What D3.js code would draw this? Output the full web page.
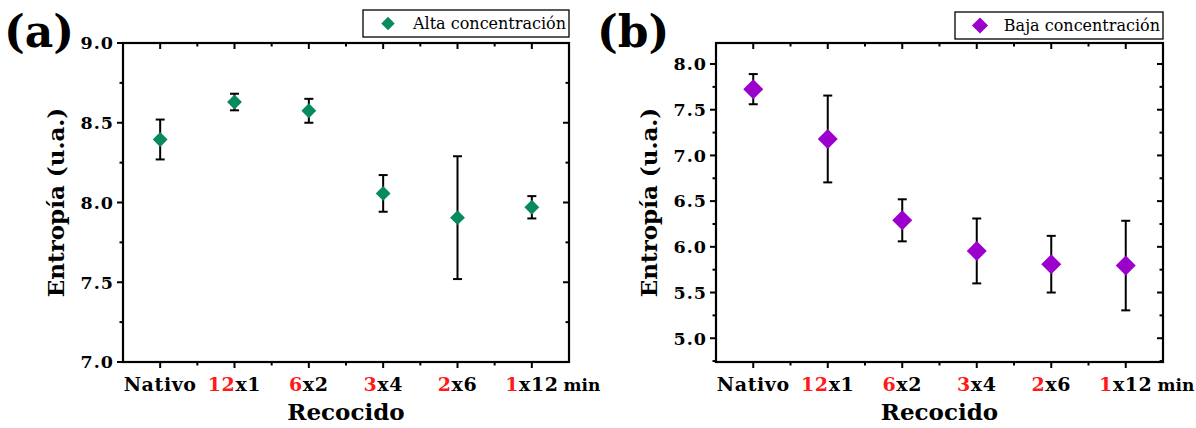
<!DOCTYPE html>
<html><head><meta charset="utf-8">
<script src="https://cdn.jsdelivr.net/npm/d3@7"></script>
<style>
html,body{margin:0;padding:0;background:#fff;}
svg text{font-family:"DejaVu Serif","Liberation Serif",serif;}
</style></head>
<body><svg id="c" width="1196" height="428"></svg>
<script>
// ---- data ----
const categories = ["Nativo", "12x1", "6x2", "3x4", "2x6", "1x12"];
const labelRed   = ["", "12", "6", "3", "2", "1"];
const labelBlack = ["Nativo", "x1", "x2", "x4", "x6", "x12"];
const labelSuffix = ["", "", "", "", "", "min"];
const altaMean = [8.395, 8.630, 8.575, 8.057, 7.905, 7.970];
const altaErr  = [0.125, 0.052, 0.075, 0.115, 0.385, 0.070];
const bajaMean = [7.725, 7.180, 6.290, 5.955, 5.810, 5.795];
const bajaErr  = [0.165, 0.475, 0.230, 0.355, 0.310, 0.490];
const altaTicks = [7.0, 7.5, 8.0, 8.5, 9.0];
const bajaTicks = [5.0, 5.5, 6.0, 6.5, 7.0, 7.5, 8.0];

const svg = d3.select("#c");

function panel(o){
  const g = svg.append("g");
  const x = d3.scaleLinear().domain([-0.5, categories.length-0.5]).range([o.left, o.right]);
  const y = d3.scaleLinear().domain(o.ydom).range([o.bottom, o.top]);
  const xMajor = categories.map((c,i)=>i);
  const xMinor = d3.range(0, categories.length-1).map(v=>v+0.5);
  const yMinor = d3.range(Math.ceil(o.ydom[0]*4)/4, o.ydom[1]+1e-9, 0.25).filter(v=>Math.abs(v*2-Math.round(v*2))>1e-6);

  const tick = (data, x1, x2, y1, y2) => g.selectAll(null).data(data).join("line")
    .attr("x1",x1).attr("x2",x2).attr("y1",y1).attr("y2",y2)
    .attr("stroke","#000").attr("stroke-width",2);
  tick(xMajor, d=>x(d), d=>x(d), o.bottom, o.bottom+6);
  tick(xMinor, d=>x(d), d=>x(d), o.bottom, o.bottom+3.5);
  tick(xMajor, d=>x(d), d=>x(d), o.top, o.top+6);
  tick(xMinor, d=>x(d), d=>x(d), o.top, o.top+3.5);
  tick(o.ticks, o.left-6, o.left, d=>y(d), d=>y(d));
  tick(yMinor, o.left-3.5, o.left, d=>y(d), d=>y(d));
  tick(o.ticks, o.right-6, o.right, d=>y(d), d=>y(d));
  tick(yMinor, o.right-3.5, o.right, d=>y(d), d=>y(d));
  g.append("rect").attr("x",o.left).attr("y",o.top).attr("width",o.right-o.left).attr("height",o.bottom-o.top)
    .attr("fill","none").attr("stroke","#000").attr("stroke-width",2.2);

  // y tick labels
  g.selectAll(null).data(o.ticks).join("text")
    .attr("x",o.left-9).attr("y",d=>y(d)).attr("dy","0.36em")
    .attr("text-anchor","end").attr("font-size",17.5).attr("font-weight","bold")
    .attr("letter-spacing","1px")
    .text(d=>d3.format(".1f")(d));

  // x tick labels
  categories.forEach((c,i)=>{
    const t = g.append("text").attr("y",o.bottom+29).attr("font-size",19).attr("font-weight","bold");
    const a = t.append("tspan").attr("fill","#ff1a1a").attr("letter-spacing","0.6px").text(labelRed[i]);
    const b = t.append("tspan").attr("fill","#000").attr("letter-spacing","0.6px").text(labelBlack[i]);
    if(labelSuffix[i]) t.append("tspan").attr("fill","#000").attr("dx",5).attr("font-size",17).text(labelSuffix[i]);
    const w = (labelRed[i]? a.node().getComputedTextLength():0) + b.node().getComputedTextLength();
    t.attr("x", x(i) - w/2);
  });

  // axis titles
  g.append("text").attr("x",(o.left+o.right)/2).attr("y",o.bottom+58)
    .attr("text-anchor","middle").attr("font-size",23).attr("font-weight","bold").text("Recocido");
  g.append("text").attr("transform",`translate(${o.ytx},${(o.top+o.bottom)/2}) rotate(-90)`)
    .attr("text-anchor","middle").attr("font-size",23).attr("font-weight","bold").text("Entropía (u.a.)");

  // panel letter
  g.append("text").attr("x",o.lx).attr("y",o.ly).attr("font-size",44).attr("font-weight","bold")
    .text(o.letter);

  // error bars
  const eg = g.append("g");
  o.mean.forEach((m,i)=>{
    const lo = y(m-o.err[i]), hi = y(m+o.err[i]);
    eg.append("line").attr("x1",x(i)).attr("x2",x(i)).attr("y1",lo).attr("y2",hi).attr("stroke","#000").attr("stroke-width",2);
    eg.append("line").attr("x1",x(i)-4.5).attr("x2",x(i)+4.5).attr("y1",lo).attr("y2",lo).attr("stroke","#000").attr("stroke-width",2);
    eg.append("line").attr("x1",x(i)-4.5).attr("x2",x(i)+4.5).attr("y1",hi).attr("y2",hi).attr("stroke","#000").attr("stroke-width",2);
  });
  // markers
  const sym = d3.symbol().type(d3.symbolSquare).size(o.msize);
  g.selectAll(null).data(o.mean).join("path")
    .attr("d",sym).attr("transform",(d,i)=>`translate(${x(i)},${y(d)}) rotate(45)`)
    .attr("fill",o.color);

  // legend
  const lg = g.append("g");
  lg.append("rect").attr("x",o.legX).attr("y",o.legY).attr("width",o.legW).attr("height",27)
    .attr("fill","#fff").attr("stroke","#000").attr("stroke-width",1.3);
  lg.append("path").attr("d",d3.symbol().type(d3.symbolSquare).size(o.lmsize)())
    .attr("transform",`translate(${o.legX+25},${o.legY+13.5}) rotate(45)`).attr("fill",o.color);
  lg.append("text").attr("x",o.legX+o.legW-3).attr("y",o.legY+13.5).attr("dy","0.35em")
    .attr("text-anchor","end").attr("font-size",16).attr("font-family","Liberation Serif").text(o.legend);
}

panel({left:123,right:569,top:43,bottom:362,ydom:[7.0,9.0],ticks:altaTicks,
  mean:altaMean,err:altaErr,color:"#078a5c",msize:110,lmsize:90,
  letter:"(a)",lx:4,ly:47,ytx:64,
  legX:363,legY:10,legW:206,legend:"Alta concentración"});
panel({left:716,right:1163,top:43,bottom:362,ydom:[4.74,8.23],ticks:bajaTicks,
  mean:bajaMean,err:bajaErr,color:"#9c00cc",msize:200,lmsize:130,
  letter:"(b)",lx:597,ly:47,ytx:657,
  legX:955,legY:12,legW:208,legend:"Baja concentración"});
</script></body></html>
